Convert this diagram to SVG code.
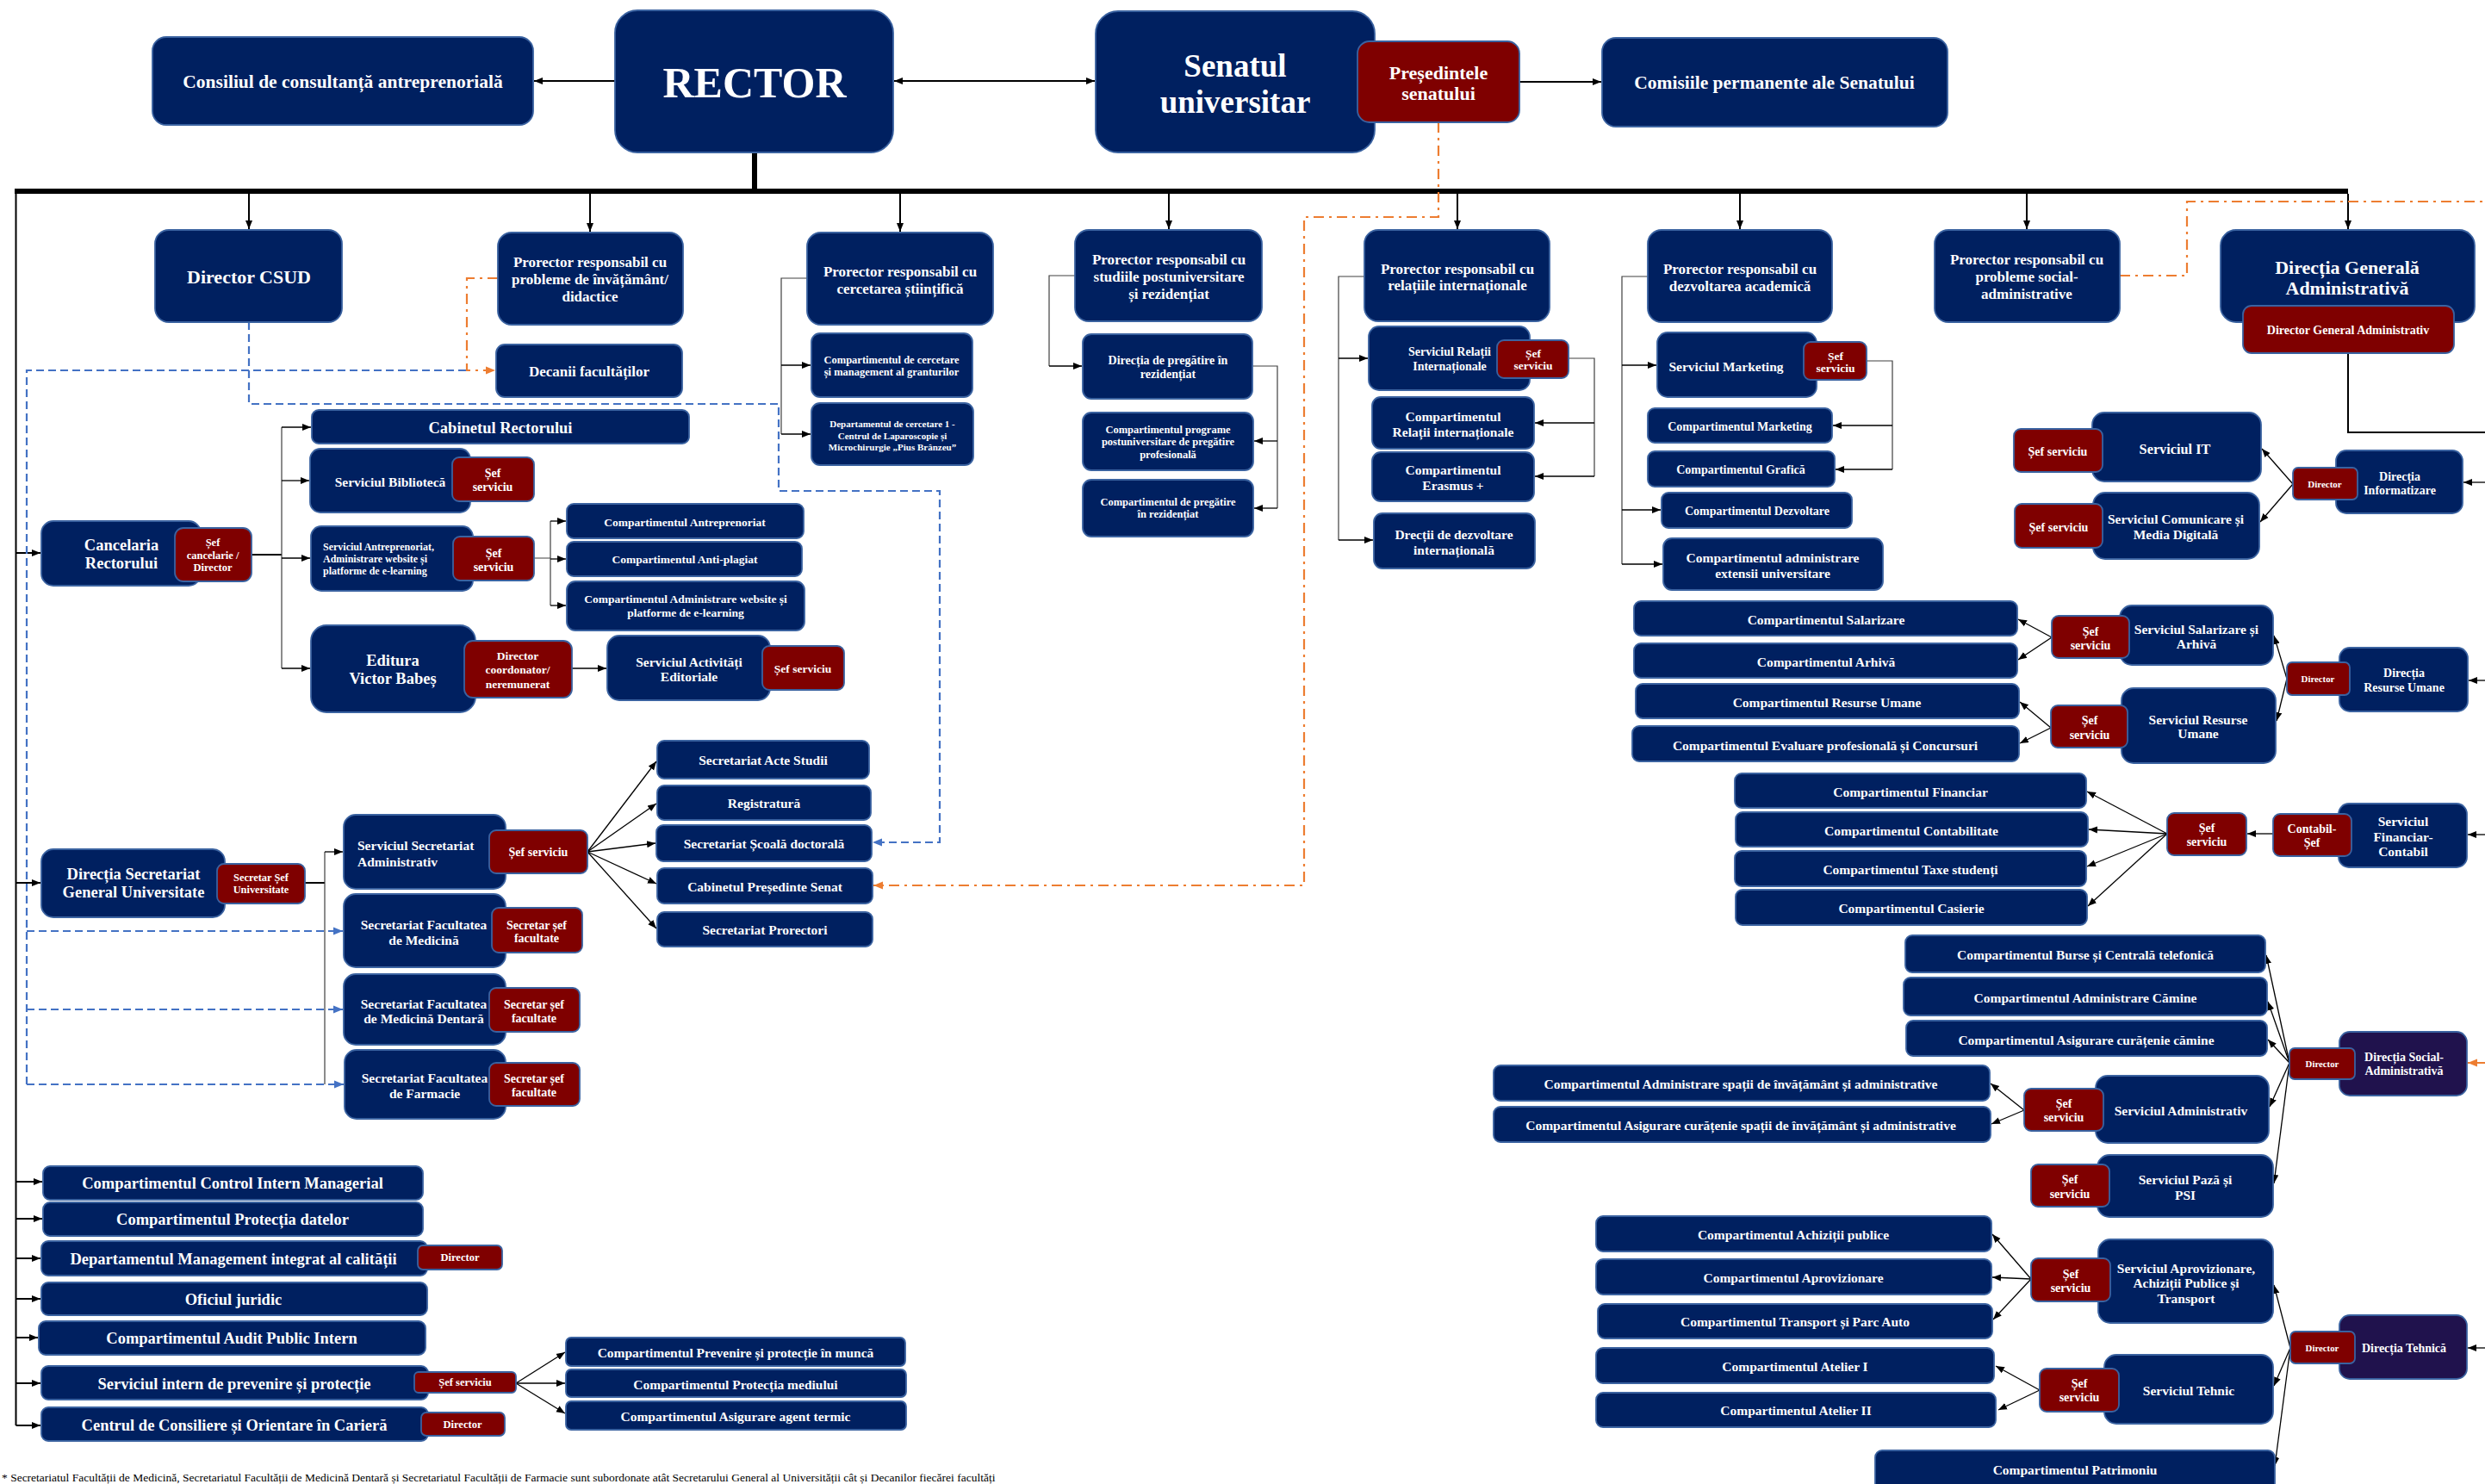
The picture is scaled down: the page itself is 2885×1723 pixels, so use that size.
<svg xmlns="http://www.w3.org/2000/svg" width="2885" height="1723" viewBox="0 0 2885 1723">
<style>
.n{fill:#002060;stroke:#3A62A0;stroke-width:1.8}
.r{fill:#7F0000;stroke:#3A62A0;stroke-width:1.8}
.p{fill:#20124D;stroke:#3A62A0;stroke-width:1.8}
text{font-family:"Liberation Serif","Times New Roman",serif;font-weight:bold;fill:#fff;text-anchor:middle;dominant-baseline:central}
.l{text-anchor:start}
.f50{font-size:50px}.f37{font-size:37px}.f22{font-size:22px}.f21{font-size:21.5px}.f18{font-size:18.5px}.f17{font-size:17px}
.f15{font-size:15.5px}.f14{font-size:14px}.f13{font-size:13.5px}.f12{font-size:12.5px}.f11{font-size:11px}.f10{font-size:10.8px}
.c{fill:none;stroke:#000;stroke-width:1.3}
.cg{fill:none;stroke:#404040;stroke-width:1.2}
.cm{fill:none;stroke:#000;stroke-width:2}
.bus{fill:none;stroke:#000;stroke-width:6}
.bd{fill:none;stroke:#4472C4;stroke-width:2.2;stroke-dasharray:9 5}
.od{fill:none;stroke:#ED7D31;stroke-width:2.2;stroke-dasharray:12 6 3 6}
.fn{font-weight:normal;fill:#000;text-anchor:start;font-size:13.5px;dominant-baseline:auto}
</style>
<defs>
<marker id="a" viewBox="0 0 10 10" refX="10" refY="5" markerWidth="10" markerHeight="10" markerUnits="userSpaceOnUse" orient="auto-start-reverse"><path d="M0,1 L10,5 L0,9 z" fill="#000"/></marker>
<marker id="ab" viewBox="0 0 10 10" refX="10" refY="5" markerWidth="11" markerHeight="11" markerUnits="userSpaceOnUse" orient="auto"><path d="M0,1 L10,5 L0,9 z" fill="#4472C4"/></marker>
<marker id="ao" viewBox="0 0 10 10" refX="10" refY="5" markerWidth="11" markerHeight="11" markerUnits="userSpaceOnUse" orient="auto"><path d="M0,1 L10,5 L0,9 z" fill="#ED7D31"/></marker>
</defs>

<g id="connectors">
<path class="bus" d="M17,222 H2726 M876,177 V222"/>
<path class="cm" d="M18.5,222 V1655"/>
<path class="cm" marker-end="url(#a)" d="M714,94 H620"/>
<path class="cm" marker-start="url(#a)" marker-end="url(#a)" d="M1038,94 H1271"/>
<path class="cm" marker-end="url(#a)" d="M1764,95 H1859"/>
<g class="cm" marker-end="url(#a)">
<path d="M289,225 V266"/><path d="M685,225 V269"/><path d="M1045,225 V269"/><path d="M1357,225 V266"/>
<path d="M1692,225 V266"/><path d="M2020,225 V266"/><path d="M2353,225 V266"/><path d="M2726,225 V266"/>
<path d="M18.5,642 H47"/><path d="M18.5,1025 H47"/><path d="M18.5,1372 H49"/><path d="M18.5,1415 H49"/>
<path d="M18.5,1461 H47"/><path d="M18.5,1508 H47"/><path d="M18.5,1553 H44"/><path d="M18.5,1606 H47"/><path d="M18.5,1655 H47"/>
</g>
<path class="cm" d="M292,644 H327 M354,1025 H377"/>
<path class="cg" d="M327,496 V776 M639,605 V703 M620,648 H639 M377,989 V1259 M937,323 H907 V504 M1248,320 H1218 V425 M1454,425 H1483 V590 M1584,321 H1554 V627 M1821,416 H1851 V553 M1913,321 H1883 V655 M2167,419 H2197 V545"/>
<g class="c" marker-end="url(#a)">
<path d="M327,496 H361"/><path d="M327,558 H359"/><path d="M327,648 H360"/><path d="M327,776 H360"/>
<path d="M639,605 H657"/><path d="M639,649 H657"/><path d="M639,703 H657"/><path d="M664,776 H704"/>
<path d="M377,989 H398"/>
<path d="M682,989 L762,884"/><path d="M682,989 L762,933"/><path d="M682,989 L761,979"/><path d="M682,989 L762,1026"/><path d="M682,989 L762,1078"/>
<path d="M907,424 H941"/><path d="M907,504 H941"/><path d="M1218,425 H1256"/>
<path d="M1483,512 H1456"/><path d="M1483,590 H1456"/>
<path d="M1554,416 H1588"/><path d="M1554,627 H1594"/>
<path d="M1851,491 H1782"/><path d="M1851,553 H1782"/>
<path d="M1883,424 H1923"/><path d="M1883,592 H1928"/><path d="M1883,655 H1930"/>
<path d="M2197,494 H2128"/><path d="M2197,545 H2131"/>
<path d="M599,1606 L656,1570"/><path d="M599,1606 L656,1606"/><path d="M599,1606 L656,1641"/>
<path d="M2885,560 H2860"/><path d="M2662,562 L2626,521"/><path d="M2662,562 L2624,606"/>
<path d="M2885,790 H2866"/><path d="M2655,788 L2640,738"/><path d="M2655,788 L2643,837"/>
<path d="M2382,740 L2343,719"/><path d="M2382,740 L2343,766"/>
<path d="M2381,845 L2345,815"/><path d="M2381,845 L2345,863"/>
<path d="M2885,969 H2865"/><path d="M2639,968 H2609"/>
<path d="M2516,968 L2423,919"/><path d="M2516,968 L2425,963"/><path d="M2516,968 L2423,1006"/><path d="M2516,968 L2424,1052"/>
<path d="M2658,1234 L2631,1109"/><path d="M2658,1234 L2633,1163"/><path d="M2658,1234 L2633,1207"/><path d="M2658,1234 L2635,1285"/><path d="M2658,1234 L2640,1374"/>
<path d="M2350,1289 L2311,1258"/><path d="M2350,1289 L2312,1305"/>
<path d="M2885,1565 H2865"/><path d="M2659,1565 L2640,1492"/><path d="M2659,1565 L2640,1609"/><path d="M2659,1565 L2641,1702"/>
<path d="M2358,1485 L2313,1433"/><path d="M2358,1485 L2313,1483"/><path d="M2358,1485 L2314,1532"/>
<path d="M2368,1614 L2317,1586"/><path d="M2368,1614 L2320,1637"/>
</g>
<path class="cm" d="M2726,410 V502 H2885"/>
<path class="bd" d="M541,430 H31 V1259"/>
<g class="bd" marker-end="url(#ab)">
<path d="M31,1081 H398"/><path d="M31,1172 H398"/><path d="M31,1259 H399"/>
<path d="M289,374 V469 H904 V570 H1091 V978 H1013"/>
</g>
<g class="od" marker-end="url(#ao)">
<path d="M578,323 H542 V430 H575"/>
<path d="M1670,142 V252 H1514 V1028 H1014"/>
<path d="M2885,1234 H2865"/>
</g>
<path class="od" d="M2461,320 H2539 V234 H2885"/>
</g>

<g id="consiliu"><rect class="n" x="177" y="43" width="442" height="102" rx="16"/><text class="f21" x="398" y="95">Consiliul de consultanță antreprenorială</text></g>
<g id="rector"><rect class="n" x="714" y="12" width="323" height="165" rx="26"/><text class="f50" x="876" y="96">RECTOR</text></g>
<g id="senat"><rect class="n" x="1272" y="13" width="324" height="164" rx="26"/><text class="f37" x="1434"><tspan x="1434" y="76">Senatul</tspan><tspan x="1434" y="118">universitar</tspan></text></g>
<g id="presedinte"><rect class="r" x="1576" y="48" width="188" height="94" rx="14"/><text class="f22"><tspan x="1670" y="84">Președintele</tspan><tspan x="1670" y="108">senatului</tspan></text></g>
<g id="comisii"><rect class="n" x="1860" y="44" width="401" height="103" rx="16"/><text class="f21" x="2060" y="96">Comisiile permanente ale Senatului</text></g>

<g id="csud"><rect class="n" x="180" y="267" width="217" height="107" rx="16"/><text class="f22" x="289" y="321">Director CSUD</text></g>
<g id="pr_inv"><rect class="n" x="578" y="270" width="215" height="107" rx="16"/><text class="f17"><tspan x="685" y="304">Prorector responsabil cu</tspan><tspan x="685" y="324">probleme de învățământ/</tspan><tspan x="685" y="344">didactice</tspan></text></g>
<g id="decanii"><rect class="n" x="576" y="400" width="216" height="61" rx="10"/><text class="f17" x="684" y="431">Decanii facultăților</text></g>
<g id="pr_cerc"><rect class="n" x="937" y="270" width="216" height="107" rx="16"/><text class="f17"><tspan x="1045" y="315">Prorector responsabil cu</tspan><tspan x="1045" y="335">cercetarea științifică</tspan></text></g>
<g id="comp_cerc"><rect class="n" x="942" y="387" width="187" height="74" rx="10"/><text class="f12"><tspan x="1035" y="418">Compartimentul de cercetare</tspan><tspan x="1035" y="432">și management al granturilor</tspan></text></g>
<g id="dep_cerc"><rect class="n" x="942" y="468" width="188" height="72" rx="10"/><text class="f11"><tspan x="1036" y="492">Departamentul de cercetare 1 -</tspan><tspan x="1036" y="506">Centrul de Laparoscopie și</tspan><tspan x="1036" y="519">Microchirurgie „Pius Brânzeu”</tspan></text></g>
<g id="pr_post"><rect class="n" x="1248" y="267" width="217" height="106" rx="16"/><text class="f17"><tspan x="1357" y="301">Prorector responsabil cu</tspan><tspan x="1357" y="321">studiile postuniversitare</tspan><tspan x="1357" y="341">și rezidențiat</tspan></text></g>
<g id="dir_rez"><rect class="n" x="1257" y="388" width="197" height="75" rx="10"/><text class="f14"><tspan x="1356" y="418">Direcția de pregătire în</tspan><tspan x="1356" y="434">rezidențiat</tspan></text></g>
<g id="comp_prog"><rect class="n" x="1257" y="479" width="198" height="67" rx="10"/><text class="f12"><tspan x="1356" y="499">Compartimentul programe</tspan><tspan x="1356" y="513">postuniversitare de pregătire</tspan><tspan x="1356" y="528">profesională</tspan></text></g>
<g id="comp_rez"><rect class="n" x="1257" y="557" width="198" height="66" rx="10"/><text class="f12"><tspan x="1356" y="583">Compartimentul de pregătire</tspan><tspan x="1356" y="597">în rezidențiat</tspan></text></g>
<g id="pr_rel"><rect class="n" x="1584" y="267" width="215" height="106" rx="16"/><text class="f17"><tspan x="1692" y="312">Prorector responsabil cu</tspan><tspan x="1692" y="331">relațiile internaționale</tspan></text></g>
<g id="serv_rel"><rect class="n" x="1589" y="379" width="187" height="74" rx="12"/><text class="f14"><tspan x="1683" y="408">Serviciul Relații</tspan><tspan x="1683" y="425">Internaționale</tspan></text><rect class="r" x="1738" y="395" width="83" height="44" rx="8"/><text class="f13"><tspan x="1780" y="410">Șef</tspan><tspan x="1780" y="424">serviciu</tspan></text></g>
<g id="comp_rel"><rect class="n" x="1593" y="461" width="188" height="60" rx="10"/><text class="f15"><tspan x="1687" y="483">Compartimentul</tspan><tspan x="1687" y="501">Relații  internaționale</tspan></text></g>
<g id="erasmus"><rect class="n" x="1593" y="525" width="188" height="57" rx="10"/><text class="f15"><tspan x="1687" y="545">Compartimentul</tspan><tspan x="1687" y="563">Erasmus +</tspan></text></g>
<g id="directii"><rect class="n" x="1595" y="596" width="187" height="64" rx="10"/><text class="f15"><tspan x="1688" y="620">Drecții de dezvoltare</tspan><tspan x="1688" y="638">internațională</tspan></text></g>
<g id="pr_dezv"><rect class="n" x="1913" y="267" width="214" height="107" rx="16"/><text class="f17"><tspan x="2020" y="312">Prorector responsabil cu</tspan><tspan x="2020" y="332">dezvoltarea academică</tspan></text></g>
<g id="serv_mkt"><rect class="n" x="1924" y="386" width="185" height="75" rx="12"/><text class="f15" x="2004" y="425">Serviciul Marketing</text><rect class="r" x="2094" y="397" width="73" height="44" rx="8"/><text class="f13"><tspan x="2131" y="413">Șef</tspan><tspan x="2131" y="427">serviciu</tspan></text></g>
<g id="comp_mkt"><rect class="n" x="1913" y="474" width="214" height="40" rx="8"/><text class="f14" x="2020" y="495">Compartimentul Marketing</text></g>
<g id="comp_graf"><rect class="n" x="1913" y="524" width="217" height="41" rx="8"/><text class="f14" x="2021" y="545">Compartimentul Grafică</text></g>
<g id="comp_dezv"><rect class="n" x="1929" y="572" width="221" height="41" rx="8"/><text class="f14" x="2040" y="593">Compartimentul Dezvoltare</text></g>
<g id="comp_ext"><rect class="n" x="1931" y="625" width="255" height="60" rx="10"/><text class="f15"><tspan x="2058" y="647">Compartimentul administrare</tspan><tspan x="2058" y="665">extensii universitare</tspan></text></g>
<g id="pr_soc"><rect class="n" x="2246" y="267" width="215" height="107" rx="16"/><text class="f17"><tspan x="2353" y="301">Prorector responsabil cu</tspan><tspan x="2353" y="321">probleme social-</tspan><tspan x="2353" y="341">administrative</tspan></text></g>
<g id="dga"><rect class="n" x="2578" y="267" width="295" height="107" rx="18"/><text class="f22"><tspan x="2725" y="310">Direcția Generală</tspan><tspan x="2725" y="334">Administrativă</tspan></text><rect class="r" x="2604" y="355" width="245" height="55" rx="10"/><text class="f14" x="2726" y="383">Director General Administrativ</text></g>

<g id="cabinet"><rect class="n" x="362" y="476" width="438" height="39" rx="8"/><text class="f18" x="581" y="497">Cabinetul Rectorului</text></g>
<g id="biblioteca"><rect class="n" x="360" y="521" width="186" height="74" rx="12"/><text class="f15" x="453" y="559">Serviciul Bibliotecă</text><rect class="r" x="525" y="531" width="95" height="51" rx="8"/><text class="f14"><tspan x="572" y="549">Șef</tspan><tspan x="572" y="565">serviciu</tspan></text></g>
<g id="cancelaria"><rect class="n" x="48" y="605" width="185" height="75" rx="14"/><text class="f18"><tspan x="141" y="633">Cancelaria</tspan><tspan x="141" y="654">Rectorului</tspan></text><rect class="r" x="203" y="613" width="89" height="62" rx="10"/><text class="f12"><tspan x="247" y="630">Șef</tspan><tspan x="247" y="645">cancelarie /</tspan><tspan x="247" y="659">Director</tspan></text></g>
<g id="antrep"><rect class="n" x="361" y="611" width="188" height="75" rx="12"/><text class="f12 l" style="font-size:12px"><tspan x="375" y="635">Serviciul Antreprenoriat,</tspan><tspan x="375" y="649">Administrare website și</tspan><tspan x="375" y="663">platforme de e-learning</tspan></text><rect class="r" x="526" y="623" width="94" height="51" rx="8"/><text class="f14"><tspan x="573" y="642">Șef</tspan><tspan x="573" y="658">serviciu</tspan></text></g>
<g id="comp_antrep"><rect class="n" x="658" y="585" width="275" height="40" rx="8"/><text class="f13" x="795" y="606">Compartimentul Antreprenoriat</text></g>
<g id="comp_anti"><rect class="n" x="658" y="629" width="273" height="40" rx="8"/><text class="f13" x="795" y="649">Compartimentul Anti-plagiat</text></g>
<g id="comp_web"><rect class="n" x="658" y="675" width="276" height="57" rx="10"/><text class="f13"><tspan x="796" y="695">Compartimentul Administrare website și</tspan><tspan x="796" y="711">platforme de e-learning</tspan></text></g>
<g id="editura"><rect class="n" x="361" y="726" width="191" height="101" rx="18"/><text class="f18"><tspan x="456" y="767">Editura</tspan><tspan x="456" y="788">Victor Babeș</tspan></text><rect class="r" x="539" y="744" width="125" height="66" rx="10"/><text class="f13"><tspan x="601" y="761">Director</tspan><tspan x="601" y="777">coordonator/</tspan><tspan x="601" y="794">neremunerat</tspan></text></g>
<g id="activ"><rect class="n" x="705" y="738" width="189" height="75" rx="14"/><text class="f15"><tspan x="800" y="768">Serviciul Activități</tspan><tspan x="800" y="785">Editoriale</tspan></text><rect class="r" x="885" y="750" width="95" height="51" rx="8"/><text class="f13" x="932" y="776">Șef serviciu</text></g>

<g id="dirsec"><rect class="n" x="48" y="986" width="213" height="79" rx="14"/><text class="f18"><tspan x="155" y="1015">Direcția Secretariat</tspan><tspan x="155" y="1036">General Universitate</tspan></text><rect class="r" x="252" y="1003" width="102" height="46" rx="8"/><text class="f12" style="font-size:12.4px"><tspan x="303" y="1019">Secretar Șef</tspan><tspan x="303" y="1033">Universitate</tspan></text></g>
<g id="serv_sec"><rect class="n" x="399" y="946" width="188" height="86" rx="14"/><text class="f15 l"><tspan x="415" y="981">Serviciul Secretariat</tspan><tspan x="415" y="1000">Administrativ</tspan></text><rect class="r" x="568" y="964" width="114" height="50" rx="8"/><text class="f14" x="625" y="989">Șef serviciu</text></g>
<g id="acte"><rect class="n" x="763" y="860" width="246" height="44" rx="8"/><text class="f15" x="886" y="882">Secretariat Acte Studii</text></g>
<g id="registratura"><rect class="n" x="763" y="912" width="248" height="40" rx="8"/><text class="f15" x="887" y="932">Registratură</text></g>
<g id="scoala"><rect class="n" x="762" y="958" width="250" height="42" rx="8"/><text class="f15" x="887" y="979">Secretariat Școală doctorală</text></g>
<g id="cab_pres"><rect class="n" x="763" y="1008" width="250" height="41" rx="8"/><text class="f15" x="888" y="1029">Cabinetul Președinte Senat</text></g>
<g id="prorectori"><rect class="n" x="763" y="1059" width="250" height="40" rx="8"/><text class="f15" x="888" y="1079">Secretariat Prorectori</text></g>
<g id="fac_med"><rect class="n" x="399" y="1038" width="188" height="85" rx="14"/><text class="f15"><tspan x="492" y="1073">Secretariat Facultatea</tspan><tspan x="492" y="1091">de Medicină</tspan></text><rect class="r" x="571" y="1054" width="105" height="52" rx="8"/><text class="f14"><tspan x="623" y="1074">Secretar șef</tspan><tspan x="623" y="1089">facultate</tspan></text></g>
<g id="fac_dent"><rect class="n" x="399" y="1131" width="188" height="82" rx="14"/><text class="f15"><tspan x="492" y="1165">Secretariat Facultatea</tspan><tspan x="492" y="1182">de Medicină Dentară</tspan></text><rect class="r" x="568" y="1147" width="105" height="51" rx="8"/><text class="f14"><tspan x="620" y="1166">Secretar șef</tspan><tspan x="620" y="1182">facultate</tspan></text></g>
<g id="fac_farm"><rect class="n" x="400" y="1219" width="187" height="80" rx="14"/><text class="f15"><tspan x="493" y="1251">Secretariat Facultatea</tspan><tspan x="493" y="1269">de Farmacie</tspan></text><rect class="r" x="568" y="1234" width="105" height="50" rx="8"/><text class="f14"><tspan x="620" y="1252">Secretar șef</tspan><tspan x="620" y="1268">facultate</tspan></text></g>

<g id="cim"><rect class="n" x="50" y="1354" width="441" height="39" rx="8"/><text class="f18" x="270" y="1374">Compartimentul Control Intern Managerial</text></g>
<g id="date"><rect class="n" x="50" y="1396" width="441" height="39" rx="8"/><text class="f18" x="270" y="1416">Compartimentul Protecția datelor</text></g>
<g id="calitate"><rect class="n" x="48" y="1441" width="448" height="40" rx="8"/><text class="f18" x="271" y="1462">Departamentul Management integrat al calității</text><rect class="r" x="485" y="1446" width="98" height="28" rx="6"/><text class="f12" x="534" y="1460">Director</text></g>
<g id="juridic"><rect class="n" x="48" y="1489" width="448" height="38" rx="8"/><text class="f18" x="271" y="1509">Oficiul juridic</text></g>
<g id="audit"><rect class="n" x="45" y="1534" width="449" height="39" rx="8"/><text class="f18" x="269" y="1554">Compartimentul Audit Public Intern</text></g>
<g id="prevenire"><rect class="n" x="48" y="1586" width="449" height="39" rx="8"/><text class="f18" x="272" y="1607">Serviciul intern de prevenire și protecție</text><rect class="r" x="481" y="1593" width="118" height="24" rx="5"/><text class="f12" x="540" y="1605">Șef serviciu</text></g>
<g id="centru"><rect class="n" x="48" y="1634" width="449" height="39" rx="8"/><text class="f18" x="272" y="1655">Centrul de Consiliere și Orientare în Carieră</text><rect class="r" x="489" y="1640" width="97" height="27" rx="6"/><text class="f12" x="537" y="1654">Director</text></g>
<g id="munca"><rect class="n" x="657" y="1553" width="394" height="33" rx="6"/><text class="f15" x="854" y="1570">Compartimentul Prevenire și protecție în muncă</text></g>
<g id="mediu"><rect class="n" x="657" y="1590" width="395" height="32" rx="6"/><text class="f15" x="854" y="1607">Compartimentul Protecția mediului</text></g>
<g id="termic"><rect class="n" x="657" y="1627" width="395" height="33" rx="6"/><text class="f15" x="854" y="1644">Compartimentul Asigurare agent termic</text></g>

<g id="serv_it"><rect class="n" x="2429" y="479" width="196" height="80" rx="14"/><text class="f15" style="font-size:16.3px" x="2525" y="521">Serviciul IT</text><rect class="r" x="2338" y="498" width="103" height="50" rx="8"/><text class="f14" x="2389" y="524">Șef serviciu</text></g>
<g id="dir_inf"><rect class="n" x="2712" y="523" width="147" height="73" rx="12"/><text class="f14"><tspan x="2786" y="553">Direcția</tspan><tspan x="2786" y="569">Informatizare</tspan></text><rect class="r" x="2662" y="543" width="75" height="37" rx="6"/><text class="f11" x="2699" y="562">Director</text></g>
<g id="serv_com"><rect class="n" x="2430" y="572" width="193" height="77" rx="14"/><text class="f15"><tspan x="2526" y="602">Serviciul Comunicare și</tspan><tspan x="2526" y="620">Media Digitală</tspan></text><rect class="r" x="2339" y="585" width="102" height="51" rx="8"/><text class="f14" x="2390" y="612">Șef serviciu</text></g>
<g id="comp_sal"><rect class="n" x="1897" y="698" width="445" height="40" rx="8"/><text class="f15" x="2120" y="719">Compartimentul Salarizare</text></g>
<g id="comp_arh"><rect class="n" x="1897" y="747" width="445" height="40" rx="8"/><text class="f15" x="2120" y="768">Compartimentul Arhivă</text></g>
<g id="comp_ru"><rect class="n" x="1899" y="794" width="445" height="40" rx="8"/><text class="f15" x="2121" y="815">Compartimentul Resurse Umane</text></g>
<g id="comp_eval"><rect class="n" x="1895" y="843" width="449" height="41" rx="8"/><text class="f15" x="2119" y="865">Compartimentul Evaluare profesională și Concursuri</text></g>
<g id="serv_sal"><rect class="n" x="2461" y="703" width="178" height="69" rx="14"/><text class="f15"><tspan x="2550" y="730">Serviciul Salarizare și</tspan><tspan x="2550" y="747">Arhivă</tspan></text><rect class="r" x="2382" y="715" width="90" height="49" rx="8"/><text class="f14"><tspan x="2427" y="733">Șef</tspan><tspan x="2427" y="749">serviciu</tspan></text></g>
<g id="serv_ru"><rect class="n" x="2463" y="799" width="179" height="87" rx="14"/><text class="f15"><tspan x="2552" y="835">Serviciul  Resurse</tspan><tspan x="2552" y="851">Umane</tspan></text><rect class="r" x="2381" y="819" width="89" height="49" rx="8"/><text class="f14"><tspan x="2426" y="836">Șef</tspan><tspan x="2426" y="853">serviciu</tspan></text></g>
<g id="dir_ru"><rect class="n" x="2716" y="752" width="149" height="74" rx="12"/><text class="f14"><tspan x="2791" y="781">Direcția</tspan><tspan x="2791" y="798">Resurse Umane</tspan></text><rect class="r" x="2655" y="769" width="73" height="38" rx="6"/><text class="f10" x="2691" y="788">Director</text></g>
<g id="comp_fin"><rect class="n" x="2014" y="898" width="408" height="40" rx="8"/><text class="f15" x="2218" y="919">Compartimentul  Financiar</text></g>
<g id="comp_cont"><rect class="n" x="2015" y="943" width="409" height="40" rx="8"/><text class="f15" x="2219" y="964">Compartimentul Contabilitate</text></g>
<g id="comp_taxe"><rect class="n" x="2014" y="988" width="408" height="41" rx="8"/><text class="f15" x="2218" y="1009">Compartimentul Taxe studenți</text></g>
<g id="comp_cas"><rect class="n" x="2015" y="1033" width="408" height="41" rx="8"/><text class="f15" x="2219" y="1054">Compartimentul Casierie</text></g>
<g id="sef_fin"><rect class="r" x="2516" y="944" width="92" height="49" rx="8"/><text class="f14"><tspan x="2562" y="961">Șef</tspan><tspan x="2562" y="977">serviciu</tspan></text></g>
<g id="fin_cont"><rect class="n" x="2715" y="933" width="149" height="74" rx="12"/><text class="f15"><tspan x="2790" y="953">Serviciul</tspan><tspan x="2790" y="971">Financiar-</tspan><tspan x="2790" y="988">Contabil</tspan></text><rect class="r" x="2639" y="945" width="91" height="49" rx="8"/><text class="f14"><tspan x="2684" y="962">Contabil-</tspan><tspan x="2684" y="978">Șef</tspan></text></g>
<g id="burse"><rect class="n" x="2212" y="1086" width="418" height="43" rx="8"/><text class="f15" x="2421" y="1108">Compartimentul Burse și Centrală telefonică</text></g>
<g id="camine"><rect class="n" x="2210" y="1135" width="422" height="44" rx="8"/><text class="f15" x="2421" y="1158">Compartimentul Administrare Cămine</text></g>
<g id="cur_camine"><rect class="n" x="2213" y="1185" width="419" height="41" rx="8"/><text class="f15" x="2422" y="1207">Compartimentul Asigurare curățenie cămine</text></g>
<g id="dir_soc"><rect class="p" x="2716" y="1198" width="148" height="74" rx="12"/><text class="f14"><tspan x="2791" y="1227">Direcția Social-</tspan><tspan x="2791" y="1243">Administrativă</tspan></text><rect class="r" x="2658" y="1217" width="76" height="36" rx="6"/><text class="f10" x="2696" y="1235">Director</text></g>
<g id="adm_spatii"><rect class="n" x="1734" y="1237" width="576" height="41" rx="8"/><text class="f15" x="2021" y="1258">Compartimentul Administrare spații de învățământ și administrative</text></g>
<g id="cur_spatii"><rect class="n" x="1734" y="1285" width="577" height="41" rx="8"/><text class="f15" x="2021" y="1306">Compartimentul Asigurare curățenie spații de învățământ și administrative</text></g>
<g id="serv_adm"><rect class="n" x="2433" y="1249" width="201" height="78" rx="14"/><text class="f15" x="2532" y="1289">Serviciul  Administrativ</text><rect class="r" x="2350" y="1264" width="92" height="49" rx="8"/><text class="f14"><tspan x="2396" y="1281">Șef</tspan><tspan x="2396" y="1297">serviciu</tspan></text></g>
<g id="paza"><rect class="n" x="2435" y="1341" width="204" height="72" rx="14"/><text class="f15"><tspan x="2537" y="1369">Serviciul Pază și</tspan><tspan x="2537" y="1387">PSI</tspan></text><rect class="r" x="2358" y="1352" width="91" height="49" rx="8"/><text class="f14"><tspan x="2403" y="1369">Șef</tspan><tspan x="2403" y="1386">serviciu</tspan></text></g>
<g id="achizitii"><rect class="n" x="1853" y="1412" width="459" height="41" rx="8"/><text class="f15" x="2082" y="1433">Compartimentul Achiziții publice</text></g>
<g id="aprov_c"><rect class="n" x="1853" y="1462" width="459" height="41" rx="8"/><text class="f15" x="2082" y="1483">Compartimentul Aprovizionare</text></g>
<g id="transport"><rect class="n" x="1855" y="1514" width="458" height="40" rx="8"/><text class="f15" x="2084" y="1534">Compartimentul Transport și Parc Auto</text></g>
<g id="atelier1"><rect class="n" x="1853" y="1565" width="462" height="41" rx="8"/><text class="f15" x="2084" y="1586">Compartimentul Atelier I</text></g>
<g id="atelier2"><rect class="n" x="1853" y="1617" width="464" height="40" rx="8"/><text class="f15" x="2085" y="1637">Compartimentul Atelier II</text></g>
<g id="serv_aprov"><rect class="n" x="2436" y="1439" width="203" height="97" rx="14"/><text class="f15"><tspan x="2538" y="1472">Serviciul Aprovizionare,</tspan><tspan x="2538" y="1489">Achiziții Publice și</tspan><tspan x="2538" y="1507">Transport</tspan></text><rect class="r" x="2358" y="1461" width="92" height="50" rx="8"/><text class="f14"><tspan x="2404" y="1479">Șef</tspan><tspan x="2404" y="1495">serviciu</tspan></text></g>
<g id="serv_teh"><rect class="n" x="2443" y="1573" width="196" height="80" rx="14"/><text class="f15" x="2541" y="1614">Serviciul Tehnic</text><rect class="r" x="2368" y="1589" width="92" height="50" rx="8"/><text class="f14"><tspan x="2414" y="1606">Șef</tspan><tspan x="2414" y="1622">serviciu</tspan></text></g>
<g id="dir_teh"><rect class="p" x="2716" y="1527" width="148" height="74" rx="12"/><text class="f14" x="2791" y="1565">Direcția Tehnică</text><rect class="r" x="2659" y="1546" width="75" height="37" rx="6"/><text class="f10" x="2696" y="1565">Director</text></g>
<g id="patrimoniu"><rect class="n" x="2177" y="1684" width="464" height="55" rx="8"/><text class="f15" x="2409" y="1706">Compartimentul Patrimoniu</text></g>

<text class="fn" x="2" y="1720">* Secretariatul Facultății de Medicină, Secretariatul Facultății de Medicină Dentară și Secretariatul Facultății de Farmacie sunt subordonate atât Secretarului General al Universității cât și Decanilor fiecărei facultăți</text>
</svg>
